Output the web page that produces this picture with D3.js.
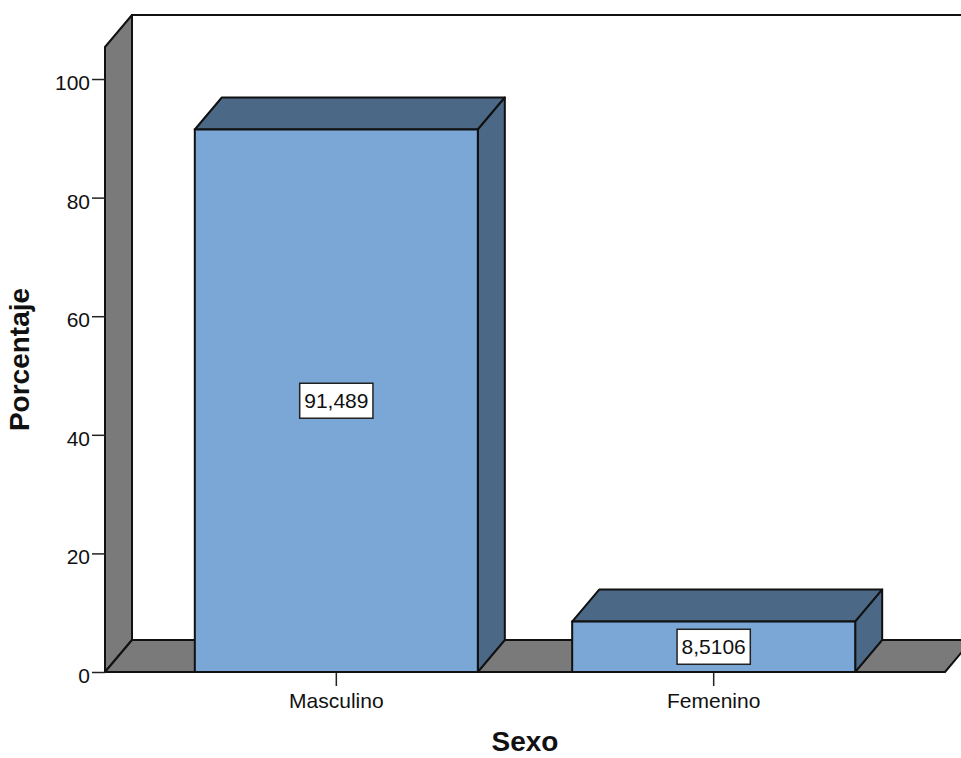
<!DOCTYPE html>
<html>
<head>
<meta charset="utf-8">
<script src="https://cdn.jsdelivr.net/npm/d3@7/dist/d3.min.js"></script>
<style>
  html, body { margin: 0; padding: 0; background: #ffffff; }
  svg { display: block; font-family: "Liberation Sans", Arial, sans-serif; }
</style>
</head>
<body>
<svg id="chart" width="961" height="758"></svg>
<script>
// Distribución por sexo (porcentaje)
const categories = ["Masculino", "Femenino"];
const percentages = [91.489, 8.5106];
const yTickValues = [0, 20, 40, 60, 80, 100];
const xTitle = "Sexo";
const yTitle = "Porcentaje";

const W = 961, H = 758;
const frontLeft = 105, frontRight = 945;
const floorY = 672, topY = 47;
const depthX = 27, depthY = 32;

const colors = {
  wall: "#7a7a7a",
  front: "#7aa7d6",
  top: "#4b6987",
  side: "#4b6987",
  edge: "#111111"
};

const svg = d3.select("#chart");

const x = d3.scaleBand()
  .domain(categories)
  .range([frontLeft, frontRight])
  .paddingInner(0.25)
  .paddingOuter(0.238);

const y = d3.scaleLinear()
  .domain([0, 105.4])
  .range([floorY, topY]);

const poly = pts => "M" + pts.map(p => p.join(",")).join("L") + "Z";

// back wall
svg.append("path")
  .attr("d", poly([
    [frontLeft + depthX, topY - depthY],
    [frontRight + depthX + 40, topY - depthY],
    [frontRight + depthX + 40, floorY - depthY],
    [frontLeft + depthX, floorY - depthY]
  ]))
  .attr("fill", "#ffffff")
  .attr("stroke", colors.edge)
  .attr("stroke-width", 2);

// left wall
svg.append("path")
  .attr("d", poly([
    [frontLeft, floorY],
    [frontLeft, topY],
    [frontLeft + depthX, topY - depthY],
    [frontLeft + depthX, floorY - depthY]
  ]))
  .attr("fill", colors.wall)
  .attr("stroke", colors.edge)
  .attr("stroke-width", 2)
  .attr("stroke-linejoin", "round");

// floor
svg.append("path")
  .attr("d", poly([
    [frontLeft, floorY],
    [frontRight, floorY],
    [frontRight + depthX, floorY - depthY],
    [frontLeft + depthX, floorY - depthY]
  ]))
  .attr("fill", colors.wall)
  .attr("stroke", colors.edge)
  .attr("stroke-width", 2)
  .attr("stroke-linejoin", "round");

// axes
const yAxis = svg.append("g")
  .attr("transform", `translate(${frontLeft},0)`)
  .call(d3.axisLeft(y).tickValues(yTickValues).tickSize(13).tickPadding(2).tickFormat(d3.format("d")));
yAxis.select(".domain").remove();
yAxis.selectAll("line").attr("stroke", "#222").attr("stroke-width", 1.5);
yAxis.selectAll("text")
  .attr("font-size", 21)
  .attr("font-family", "'Liberation Sans', Arial, sans-serif")
  .attr("fill", "#111")
  .attr("dy", "0.5em");

const xAxis = svg.append("g")
  .attr("transform", `translate(0,${floorY})`)
  .call(d3.axisBottom(x).tickSize(14).tickPadding(7));
xAxis.select(".domain").remove();
xAxis.selectAll("line").attr("stroke", "#222").attr("stroke-width", 1.5);
xAxis.selectAll("text")
  .attr("font-size", 21)
  .attr("font-family", "'Liberation Sans', Arial, sans-serif")
  .attr("fill", "#111");

// 3D bars
const bars = categories.map((c, i) => ({ c, v: percentages[i] }));
const bw = x.bandwidth();

const g = svg.append("g");
bars.forEach(d => {
  const xs = x(d.c), xe = xs + bw, yt = y(d.v), yb = y(0);
  const bg = g.append("g");
  bg.append("path")
    .attr("d", poly([[xs, yt], [xe, yt], [xe + depthX, yt - depthY], [xs + depthX, yt - depthY]]))
    .attr("fill", colors.top)
    .attr("stroke", colors.edge).attr("stroke-width", 2).attr("stroke-linejoin", "round");
  bg.append("path")
    .attr("d", poly([[xe, yt], [xe, yb], [xe + depthX, yb - depthY], [xe + depthX, yt - depthY]]))
    .attr("fill", colors.side)
    .attr("stroke", colors.edge).attr("stroke-width", 2).attr("stroke-linejoin", "round");
  bg.append("rect")
    .attr("x", xs).attr("y", yt)
    .attr("width", bw).attr("height", yb - yt)
    .attr("fill", colors.front)
    .attr("stroke", colors.edge).attr("stroke-width", 2);

  // value label
  const label = String(d.v).replace(".", ",");
  const cx = xs + bw / 2, cy = (yt + yb) / 2;
  const t = bg.append("text")
    .attr("x", cx).attr("y", cy)
    .attr("text-anchor", "middle")
    .attr("dy", "0.36em")
    .attr("font-size", 21)
    .attr("fill", "#111")
    .text(label);
  const bb = t.node().getBBox();
  bg.insert("rect", "text")
    .attr("x", cx - bb.width / 2 - 4.5)
    .attr("y", cy - 17.5)
    .attr("width", bb.width + 9)
    .attr("height", 35)
    .attr("fill", "#ffffff")
    .attr("stroke", "#222")
    .attr("stroke-width", 1.5);
});

// axis titles
svg.append("text")
  .attr("x", (frontLeft + frontRight) / 2)
  .attr("y", 751)
  .attr("text-anchor", "middle")
  .attr("font-size", 28)
  .attr("font-weight", "bold")
  .attr("fill", "#111")
  .text(xTitle);

svg.append("text")
  .attr("transform", `translate(29,${(topY + floorY) / 2}) rotate(-90)`)
  .attr("text-anchor", "middle")
  .attr("font-size", 28)
  .attr("font-weight", "bold")
  .attr("fill", "#111")
  .text(yTitle);
</script>
</body>
</html>
